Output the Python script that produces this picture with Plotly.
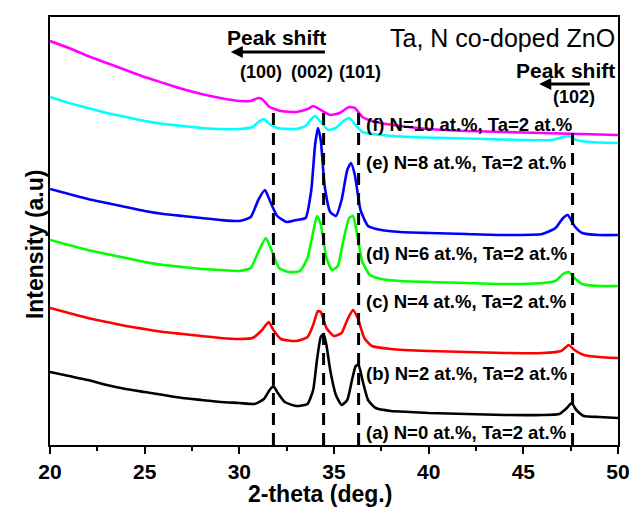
import plotly.graph_objects as go

# 2-theta grid points and intensities (a.u.) for each sample
x_a = [20, 21, 22, 23, 24, 25, 26, 27, 28, 29, 30, 30.8, 31.3, 31.6, 31.8, 32.0, 32.4, 33.0, 33.6, 33.9,
       34.1, 34.3, 34.45, 34.6, 34.8, 35.1, 35.4, 35.7, 35.95, 36.15, 36.3, 36.5, 36.8, 37.2, 38, 39, 40,
       42, 44, 46, 46.9, 47.3, 47.55, 47.8, 48.2, 49, 50]
y_a = [72, 68, 64, 59, 55, 52, 49, 46, 44, 42, 41, 40, 45, 54, 58, 52, 42, 38, 40, 54,
       84, 107, 110, 99, 74, 49, 39, 44, 64, 78, 79, 64, 44, 36, 33, 32, 31,
       30, 29, 29, 30, 36, 41, 34, 28, 27, 26]

x_b = [20, 21, 22, 23, 24, 25, 26, 27, 28, 29, 30, 30.7, 31.2, 31.55, 31.8, 32.2, 33.0, 33.6, 33.9,
       34.15, 34.3, 34.6, 35.0, 35.4, 35.7, 36.0, 36.25, 36.6, 37.0, 38, 40, 42, 44, 46, 47.0, 47.4,
       47.7, 48.2, 49, 50]
y_b = [136, 131, 126, 122, 118, 115, 112, 110, 108, 106, 105, 106, 114, 122, 114, 105, 103, 107, 119,
       133, 132, 116, 108, 111, 124, 134, 126, 106, 98, 95, 93, 92, 91, 91, 93, 99,
       94, 89, 87, 86]

x_d = [20, 21, 22, 23, 24, 25, 26, 27, 28, 29, 30, 30.6, 31.0, 31.4, 31.7, 32.1, 32.6, 33.2, 33.6,
       33.9, 34.1, 34.3, 34.6, 34.9, 35.2, 35.5, 35.8, 36.0, 36.2, 36.5, 36.9, 37.5, 38.5, 40, 42, 44,
       46, 46.7, 47.1, 47.4, 47.7, 48.1, 49, 50]
y_d = [204, 199, 194, 190, 186, 182, 179, 177, 175, 174, 173, 176, 192, 206, 194, 176, 172, 173, 186,
       212, 228, 220, 186, 174, 178, 204, 226, 228, 212, 182, 169, 165, 163, 162, 161, 160,
       161, 163, 170, 172, 166, 160, 158, 158]

x_e = [20, 21, 22, 23, 24, 25, 26, 27, 28, 29, 30, 30.6, 31.0, 31.35, 31.6, 32.0, 32.5, 33.0, 33.5,
       33.8, 34.0, 34.15, 34.3, 34.5, 34.8, 35.1, 35.4, 35.7, 35.9, 36.1, 36.4, 36.8, 37.5, 38.5, 40,
       42, 44, 46, 46.7, 47.1, 47.35, 47.7, 48.1, 49, 50]
y_e = [255, 250, 245, 241, 237, 233, 230, 228, 226, 224, 223, 227, 244, 254, 244, 228, 222, 224, 226,
       254, 299, 316, 304, 259, 232, 228, 244, 274, 281, 269, 234, 218, 214, 212, 211,
       210, 209, 210, 216, 226, 229, 218, 211, 209, 209]

x_f = [20, 21, 22, 23, 24, 25, 26, 27, 28, 29, 30, 30.7, 31.0, 31.3, 31.6, 32.0, 33.0, 33.5, 33.8,
       34.0, 34.3, 34.7, 35.1, 35.5, 35.8, 36.1, 36.5, 37.5, 39, 41, 43, 45, 46.5, 47.1, 47.4, 47.8,
       48.5, 50]
y_f = [347, 341, 336, 331, 327, 323, 320, 318, 316, 315, 315, 317, 322, 325, 320, 316, 315, 318, 325,
       328, 322, 314, 316, 323, 326, 320, 312, 309, 307, 306, 305, 304, 304, 307, 308, 304,
       302, 301]

x_g = [20, 21, 22, 23, 24, 25, 26, 27, 28, 29, 30, 30.6, 31.0, 31.2, 31.6, 32.2, 33.0, 33.6, 33.9,
       34.3, 34.8, 35.3, 35.8, 36.1, 36.5, 37.2, 38.5, 40, 42, 44, 46, 48, 50]
y_g = [403, 396, 388, 381, 374, 367, 361, 355, 350, 346, 343, 343, 346, 345, 337, 333, 332, 335, 338,
       334, 329, 331, 337, 336, 327, 322, 318, 315, 313, 312, 311, 310, 309]

series = [
    (x_a, y_a, "#000000"),
    (x_b, y_b, "#FF0000"),
    (x_d, y_d, "#00FF00"),
    (x_e, y_e, "#0000FF"),
    (x_f, y_f, "#00FFFF"),
    (x_g, y_g, "#FF00FF"),
]

sample_labels = [
    "(a) N=0 at.%, Ta=2 at.%",
    "(b) N=2 at.%, Ta=2 at.%",
    "(c) N=4 at.%, Ta=2 at.%",
    "(d) N=6 at.%, Ta=2 at.%",
    "(e) N=8 at.%, Ta=2 at.%",
    "(f) N=10 at.%, Ta=2 at.%",
]
sample_label_y = [12, 71, 143, 191, 282, 320]

peak_names = ["(100)", "(002)", "(101)"]
peak_pos = [31.8, 34.45, 36.3]
peak_label_x = [31.16, 33.86, 36.35]
peak_102 = 47.6

FONT = "Liberation Sans, Arial, sans-serif"

fig = go.Figure()

# reference lines at the undoped peak positions
for p in peak_pos:
    fig.add_shape(type="line", x0=p, x1=p, y0=-1, y1=331, xref="x", yref="y",
                  line=dict(color="black", width=3, dash="12px,8px"), layer="above")
fig.add_shape(type="line", x0=peak_102, x1=peak_102, y0=-1, y1=316, xref="x", yref="y",
              line=dict(color="black", width=3, dash="12px,8px"), layer="above")

for xs, ys, col in series:
    fig.add_trace(go.Scatter(x=xs, y=ys, mode="lines",
                             line=dict(color=col, width=2.6, shape="spline", smoothing=0.5),
                             showlegend=False, hoverinfo="skip"))

ann = []
for txt, yv in zip(sample_labels, sample_label_y):
    ann.append(dict(x=36.6, y=yv, text=txt, xanchor="left", yanchor="middle", showarrow=False,
                    font=dict(family=FONT, size=18.5, color="black", weight="bold")))
for txt, xv in zip(peak_names, peak_label_x):
    ann.append(dict(x=xv, y=372, text=txt, xanchor="center", yanchor="middle", showarrow=False,
                    font=dict(family=FONT, size=18, color="black", weight="bold")))
ann.append(dict(x=47.66, y=347, text="(102)", xanchor="center", yanchor="middle", showarrow=False,
                font=dict(family=FONT, size=18, color="black", weight="bold")))
ann.append(dict(x=31.94, y=407, text="Peak shift", xanchor="center", yanchor="middle", showarrow=False,
                font=dict(family=FONT, size=21, color="black", weight="bold")))
ann.append(dict(x=49.95, y=374, text="Peak shift", xanchor="right", yanchor="middle", showarrow=False,
                font=dict(family=FONT, size=21, color="black", weight="bold")))
ann.append(dict(x=49.95, y=406, text="Ta, N co-doped ZnO", xanchor="right", yanchor="middle",
                showarrow=False, font=dict(family=FONT, size=25, color="black")))
# shift arrows
ann.append(dict(x=29.55, y=392, ax=34.6, ay=392, xref="x", yref="y", axref="x", ayref="y",
                showarrow=True, arrowhead=2, arrowsize=0.8, arrowwidth=3, arrowcolor="black", text=""))
ann.append(dict(x=45.84, y=360, ax=48.59, ay=360, xref="x", yref="y", axref="x", ayref="y",
                showarrow=True, arrowhead=2, arrowsize=0.8, arrowwidth=3, arrowcolor="black", text=""))
# axis titles
ann.append(dict(x=-0.026, y=0.47, xref="paper", yref="paper", text="Intensity (a.u)", textangle=-90,
                xanchor="center", yanchor="middle", showarrow=False,
                font=dict(family=FONT, size=23, color="black", weight="bold")))
ann.append(dict(x=0.476, y=-0.115, xref="paper", yref="paper", text="2-theta (deg.)",
                xanchor="center", yanchor="middle", showarrow=False,
                font=dict(family=FONT, size=23, color="black", weight="bold")))

fig.update_layout(
    width=642, height=514,
    margin=dict(l=50, r=14, t=17, b=69),
    plot_bgcolor="white", paper_bgcolor="white",
    annotations=ann,
    xaxis=dict(range=[20, 50], tickvals=[20, 25, 30, 35, 40, 45, 50], ticks="outside",
               ticklen=7, tickwidth=2, tickcolor="black",
               minor=dict(tickvals=[22.5, 27.5, 32.5, 37.5, 42.5, 47.5], ticks="outside",
                          ticklen=4, tickwidth=2, tickcolor="black"),
               showline=True, linewidth=2, linecolor="black", mirror=True, showgrid=False,
               zeroline=False,
               tickfont=dict(family=FONT, size=21, color="black", weight="bold")),
    yaxis=dict(range=[-1, 427], showticklabels=False, ticks="", showline=True, linewidth=2,
               linecolor="black", mirror=True, showgrid=False, zeroline=False),
)

fig.write_html("out.html")
